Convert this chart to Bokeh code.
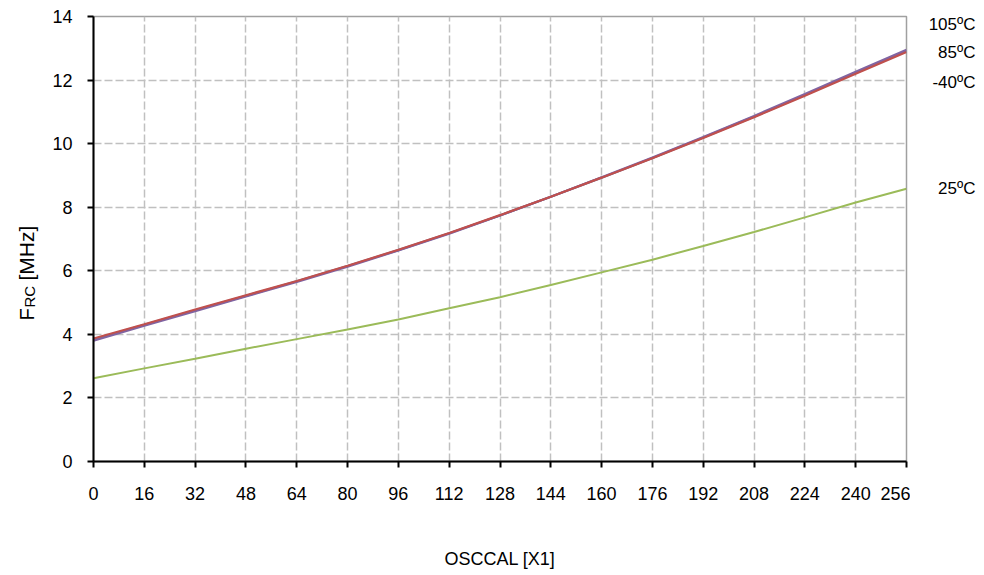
import math
from bokeh.plotting import figure
from bokeh.layouts import row
from bokeh.models import FixedTicker, Range1d
from bokeh.core.properties import value
from bokeh.embed import file_html
from bokeh.resources import INLINE

osccal = [0, 16, 32, 48, 64, 80, 96, 112, 128, 144, 160, 176, 192, 208, 224, 240, 256]
f_105 = [3.80, 4.27, 4.73, 5.19, 5.65, 6.13, 6.64, 7.17, 7.74, 8.33, 8.94, 9.56, 10.21, 10.87, 11.56, 12.26, 12.95]
f_85 = [3.87, 4.32, 4.78, 5.23, 5.68, 6.16, 6.66, 7.19, 7.75, 8.33, 8.93, 9.54, 10.18, 10.83, 11.51, 12.20, 12.88]
f_m40 = [3.84, 4.30, 4.76, 5.21, 5.67, 6.15, 6.65, 7.18, 7.74, 8.33, 8.93, 9.55, 10.19, 10.85, 11.53, 12.23, 12.91]
f_25 = [2.62, 2.93, 3.23, 3.55, 3.85, 4.15, 4.47, 4.82, 5.17, 5.55, 5.95, 6.35, 6.78, 7.22, 7.68, 8.15, 8.58]

x_ticks = list(range(0, 257, 16))
y_ticks = [0, 2, 4, 6, 8, 10, 12, 14]

series_labels = ["105ºC", "85ºC", "-40ºC", "25ºC"]
series_label_y = [13.74, 12.88, 11.93, 8.6]

FONT = "Liberation Sans"
H = 575
TOP, BOTTOM = 16, 114
LEFT_W = 40
RIGHT_W = 74
YMAX = 14


def canvas_y(px):
    # convert a pixel row of the page into the shared y scale
    frame_h = H - TOP - BOTTOM
    return (H - BOTTOM - px) * YMAX / frame_h


yr = Range1d(0, YMAX)

# ---- main chart ----
p = figure(width=53 + 813 + 4, height=H, output_backend="svg", toolbar_location=None,
           x_range=Range1d(0, 256), y_range=yr,
           min_border_left=53, min_border_right=4, min_border_top=TOP, min_border_bottom=BOTTOM)
p.background_fill_color = "white"
p.border_fill_color = "white"
p.outline_line_color = "#A0A0A0"
p.outline_line_width = 1.5

for ax in (p.xaxis[0], p.yaxis[0]):
    ax.axis_line_color = "black"
    ax.axis_line_width = 2
    ax.major_tick_line_color = "black"
    ax.major_tick_line_width = 2
    ax.major_tick_out = 6
    ax.major_tick_in = 0
    ax.minor_tick_line_color = None
    ax.major_label_text_font = FONT
    ax.major_label_text_font_size = "18px"
    ax.major_label_text_color = "black"

p.xaxis.ticker = FixedTicker(ticks=x_ticks)
p.yaxis.ticker = FixedTicker(ticks=y_ticks)
p.xaxis.major_label_standoff = 19
p.yaxis.major_label_standoff = 15
p.xaxis.axis_label = "OSCCAL [X1]"
p.xaxis.axis_label_text_font = FONT
p.xaxis.axis_label_text_font_size = "18px"
p.xaxis.axis_label_text_font_style = "normal"
p.xaxis.axis_label_text_color = "black"
p.xaxis.axis_label_standoff = 46

for g in (p.xgrid[0], p.ygrid[0]):
    g.grid_line_color = "#C0C0C0"
    g.grid_line_dash = "8 3"
    g.grid_line_width = 1.5

p.line(osccal, f_m40, line_color="#4F81BD", line_width=2.2)
p.line(osccal, f_105, line_color="#8064A2", line_width=2.2)
p.line(osccal, f_85, line_color="#C0504D", line_width=2.2)
p.line(osccal, f_25, line_color="#9BBB59", line_width=2)


def blank(width):
    f = figure(width=width, height=H, output_backend="svg", toolbar_location=None,
               x_range=Range1d(0, width), y_range=yr,
               min_border_left=0, min_border_right=0, min_border_top=TOP, min_border_bottom=BOTTOM)
    f.axis.visible = False
    f.grid.visible = False
    f.outline_line_color = None
    f.background_fill_color = "white"
    f.border_fill_color = "white"
    return f


# ---- left strip: y-axis title with subscript ----
left = blank(LEFT_W)
left.text(x=[26], y=[canvas_y(320)], text=["F"], angle=math.pi / 2, text_align="left",
          text_baseline="alphabetic", text_font=value(FONT), text_font_size=value("20px"),
          text_color="black")
left.text(x=[29], y=[canvas_y(307)], text=["RC"], angle=math.pi / 2, text_align="left",
          text_baseline="alphabetic", text_font=value(FONT), text_font_size=value("15px"),
          text_color="black")
left.text(x=[26], y=[canvas_y(280)], text=["[MHz]"], angle=math.pi / 2, text_align="left",
          text_baseline="alphabetic", text_font=value(FONT), text_font_size=value("21px"),
          text_color="black")

# ---- right strip: series labels, sharing the main y scale ----
right = blank(RIGHT_W)
right.text(x=[65] * len(series_labels), y=series_label_y, text=series_labels,
           text_align="right", text_baseline="middle", text_font=value(FONT),
           text_font_size=value("17px"), text_color="black")

layout = row(left, p, right)
open("out.html", "w").write(file_html(layout, INLINE))
